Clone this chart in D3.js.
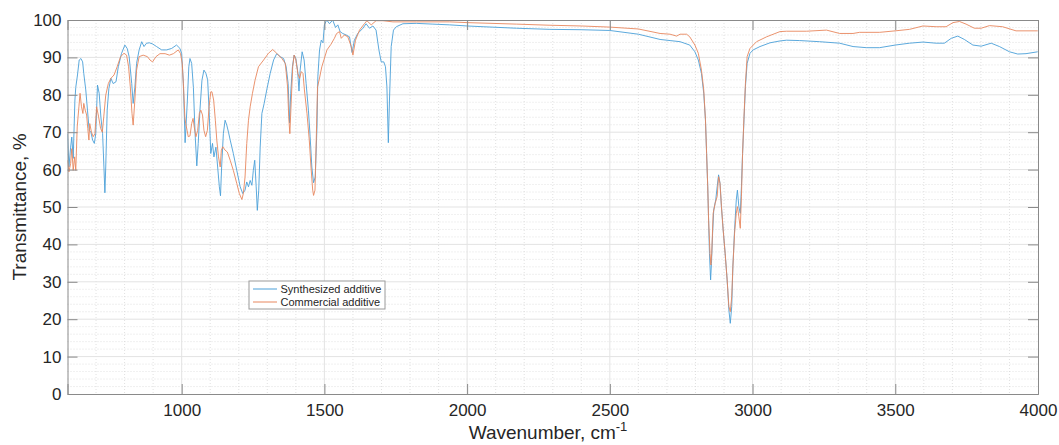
<!DOCTYPE html>
<html>
<head>
<meta charset="utf-8">
<script src="https://cdn.jsdelivr.net/npm/d3@7/dist/d3.min.js"></script>
<style>
  html, body { margin: 0; padding: 0; background: #fff; }
  svg { display: block; font-family: "Liberation Sans", Arial, Helvetica, sans-serif; }
</style>
</head>
<body>
<svg id="chart" width="1059" height="445"></svg>
<script>
// ---- Data ----
const seriesNames = ["Synthesized additive", "Commercial additive"];
const seriesColors = ["#4a9fd8", "#e8875e"];

const synthWavenumber = [600,605,611,615,620,626,629,635,641,647,653,657,664,670,676,682,688,694,699,705,711,717,723,729,731,734,739,745,752,760,770,778,789,801,809,816,825,830,836,842,851,860,868,877,887,898,912,930,947,965,982,994,1000,1006,1012,1015,1020,1025,1029,1035,1041,1047,1053,1058,1064,1071,1078,1085,1091,1096,1102,1108,1113,1120,1126,1132,1136,1140,1146,1152,1158,1164,1170,1181,1193,1205,1214,1222,1228,1234,1240,1246,1251,1256,1261,1265,1270,1275,1281,1289,1298,1310,1322,1333,1345,1357,1366,1373,1378,1382,1388,1394,1400,1406,1411,1415,1422,1429,1436,1444,1450,1456,1462,1468,1474,1477,1483,1489,1495,1500,1508,1518,1529,1539,1547,1555,1564,1576,1588,1597,1605,1617,1635,1646,1658,1670,1681,1691,1699,1708,1714,1719,1724,1728,1734,1742,1752,1775,1822,1880,1939,2000,2056,2173,2290,2400,2500,2600,2676,2711,2746,2780,2798,2810,2821,2829,2835,2839,2843,2846,2849,2853,2856,2860,2864,2871,2876,2881,2886,2891,2897,2904,2911,2917,2922,2927,2931,2937,2943,2947,2952,2957,2961,2965,2970,2975,2981,2991,3002,3026,3061,3096,3119,3165,3235,3305,3352,3399,3445,3500,3550,3597,3643,3672,3696,3719,3742,3772,3801,3836,3865,3900,3929,3958,3999];
const synthTransmittance = [69.6,60.7,66,68.7,63,78.6,82,85.3,89.3,89.7,88.8,85.7,81.3,75.9,70.5,70,67.9,67,69.6,82.6,80.4,74,69.6,58,53.8,60.7,75.9,81.7,84.4,83,83.5,87.5,91,93.3,92.4,90.2,83,77.7,82,88.4,92,94.2,92.9,93.8,93.9,93.6,92.9,92,92,92.4,93.3,92.4,91,83,67.2,71.4,78.6,87.5,89.7,88.4,82,69.6,61,67,75.9,83.9,86.6,85.7,84,75.9,64.3,67,63.4,66,60.7,55.4,53,60.7,69.6,73.2,71.9,70,67.9,64.3,59.8,55.4,53.6,54.5,56.7,55.4,57.1,55.8,59.8,62.5,55.4,49.1,54.5,66,75,77.7,81.3,85.7,89.3,91,90.2,89.7,87.5,83,72.5,80.4,87.5,90.6,89.7,86.6,81,86.6,91.5,89.3,83,75.9,68.8,60.7,56.5,58,71.4,84.8,92,94.6,93.9,98.7,100,99,100,98,98.7,96.9,96.4,96,95.5,91.3,94.6,96.4,97.8,99,97.8,98.4,97.3,92,88.8,88.8,87.5,82.1,67.2,78.6,92.9,97.3,98.2,99,99.1,98.9,98.7,98.4,98.2,97.8,97.5,97.4,97.2,96.2,94.8,94.5,94.2,93.3,91.5,89.3,85.7,80.4,73.3,64.3,55.4,46.5,37.6,30.5,34.9,43,49.2,51.9,55.4,58.6,56.3,50.1,43.9,37.6,30.5,22.5,18.9,23.4,34,43.9,51.9,54.5,50.1,48.3,55.4,64.3,73.3,82.2,88.4,91.1,92,92.9,93.9,94.4,94.6,94.5,94.2,93.8,92.9,92.6,92.6,93.3,93.8,94.1,93.8,93.8,95.1,95.7,94.8,93.3,93,93.8,92.9,91.5,90.9,91,91.5];

const commWavenumber = [600,605,611,615,620,625,629,634,640,644,649,654,657,662,667,671,675,678,684,690,696,702,709,716,722,727,734,743,752,763,774,786,798,807,814,820,826,830,836,842,851,865,880,889,898,910,924,942,957,971,988,996,1002,1007,1011,1014,1019,1023,1029,1035,1040,1044,1050,1056,1062,1067,1073,1078,1084,1090,1096,1102,1106,1112,1118,1123,1129,1135,1139,1144,1152,1160,1170,1181,1193,1202,1211,1216,1222,1228,1234,1240,1248,1257,1269,1287,1304,1319,1333,1351,1363,1371,1375,1379,1384,1389,1394,1400,1407,1413,1419,1425,1430,1439,1447,1453,1459,1462,1467,1472,1476,1483,1491,1499,1509,1523,1535,1543,1553,1559,1570,1582,1594,1600,1609,1623,1641,1649,1664,1681,1705,1740,1822,1939,2000,2173,2290,2400,2500,2600,2676,2711,2734,2746,2769,2780,2798,2810,2821,2829,2835,2839,2843,2846,2851,2854,2857,2862,2869,2876,2881,2886,2891,2897,2904,2911,2917,2922,2927,2931,2937,2943,2947,2952,2957,2961,2965,2970,2975,2981,2991,3014,3049,3096,3119,3189,3259,3305,3352,3375,3445,3500,3550,3597,3643,3678,3702,3725,3748,3777,3801,3830,3876,3923,3999];
const commTransmittance = [62.5,59.4,61.6,65.6,59.8,63.4,59.8,71.4,76.8,80.4,76.8,75,77.7,75.9,74.6,71,67.9,72.3,70,68.8,69.6,76.8,74.1,71,70,74.1,79.9,83,84.4,85.3,87.5,90.2,91.1,90.6,87.5,82.1,75,71.9,78.6,86.6,90.2,90.6,90.2,89.3,88.8,90.2,91,91,90.6,91,92,91,88.4,81.3,74.1,72.3,70.5,68.8,69,72.3,73.7,71.4,68.8,70.5,75,75.9,74.6,70.5,68.8,70.5,76.8,80.8,80.8,78.6,73.2,67.9,63.4,60.7,65.2,66.1,65.2,64.7,62.5,59.8,56.3,53.6,52,53.6,58,67,73.2,76.8,80.4,83.9,87.5,89.3,91.1,92.1,91.1,89.7,88.4,82.1,74.1,69.6,78.6,87.5,90.6,89.3,85.7,84.4,86.2,85.7,81.3,75,67.9,60.7,54.5,53.1,54.5,69.6,82.1,84.5,87.5,89.5,92,93.5,95.1,96.4,96.9,95.1,96,95.5,92.9,90.6,94.6,97.3,99.1,99.8,98.7,99.8,99.8,99.5,99.5,99.5,99.3,98.9,98.6,98.4,98.1,97.6,96.4,96.2,95.7,96.2,96.2,95.5,93.3,91.1,86.6,81.3,73.3,64.3,55.4,46.5,37.6,34.5,37.6,48.3,51,52.8,58.1,56.3,50.1,43.9,37.6,30.5,23.4,22,26,34,43,48.3,50.1,47.4,44.3,52.8,64.3,74.2,83,90.2,92.4,94.2,95.5,96.9,97,97,97.3,96.4,96.4,96.7,96.7,97.1,97.5,98.4,98.2,98.2,99.3,99.6,98.9,97.8,97.8,98.5,98.2,97.1,97.1];

const xTickValues = [1000, 1500, 2000, 2500, 3000, 3500, 4000];
const yTickValues = [0, 10, 20, 30, 40, 50, 60, 70, 80, 90, 100];
const xLabel = "Wavenumber, cm";
const xLabelSup = "-1";
const yLabel = "Transmittance, %";

// ---- Layout ----
const svg = d3.select("#chart");
const L = 67.5, R = 1038, T = 20, B = 394;
const x = d3.scaleLinear().domain([600, 4000]).range([L, R]);
const y = d3.scaleLinear().domain([0, 100]).range([B, T]);

const axisColor = "#8a8a8a";
const textColor = "#262626";

// minor grid
const g = svg.append("g");
g.selectAll("line.mx").data(d3.range(700, 4000, 100).filter(v => v % 500 !== 0))
  .join("line").attr("x1", d => x(d)).attr("x2", d => x(d)).attr("y1", T).attr("y2", B)
  .attr("stroke", "#d4d4d4").attr("stroke-width", 0.7).attr("stroke-dasharray", "1,2");
g.selectAll("line.my").data(d3.range(2, 100, 2).filter(v => v % 10 !== 0))
  .join("line").attr("x1", L).attr("x2", R).attr("y1", d => y(d)).attr("y2", d => y(d))
  .attr("stroke", "#d4d4d4").attr("stroke-width", 0.7).attr("stroke-dasharray", "1,2");
// major grid
g.append("g").selectAll("line").data(xTickValues.filter(v => v < 4000))
  .join("line").attr("x1", d => x(d)).attr("x2", d => x(d)).attr("y1", T).attr("y2", B)
  .attr("stroke", "#e3e3e3").attr("stroke-width", 1);
g.append("g").selectAll("line").data(yTickValues.filter(v => v > 0 && v < 100))
  .join("line").attr("x1", L).attr("x2", R).attr("y1", d => y(d)).attr("y2", d => y(d))
  .attr("stroke", "#e3e3e3").attr("stroke-width", 1);

// lines
const line = d3.line().x(d => x(d[0])).y(d => y(d[1]));
const synth = synthWavenumber.map((w, i) => [w, synthTransmittance[i]]);
const comm = commWavenumber.map((w, i) => [w, commTransmittance[i]]);
svg.append("clipPath").attr("id", "clip").append("rect")
  .attr("x", L).attr("y", T).attr("width", R - L).attr("height", B - T);
const lg = svg.append("g").attr("clip-path", "url(#clip)");
lg.append("path").datum(synth).attr("d", line).attr("fill", "none")
  .attr("stroke", seriesColors[0]).attr("stroke-width", 0.9).attr("stroke-linejoin", "round");
lg.append("path").datum(comm).attr("d", line).attr("fill", "none")
  .attr("stroke", seriesColors[1]).attr("stroke-width", 0.9).attr("stroke-linejoin", "round");

// axes
const tl = 10;
const xAxisB = d3.axisBottom(x).tickValues(xTickValues).tickSize(-tl).tickPadding(10).tickFormat(d3.format("d"));
const xAxisT = d3.axisTop(x).tickValues(xTickValues).tickSize(-tl).tickFormat("");
const yAxisL = d3.axisLeft(y).tickValues(yTickValues).tickSize(-tl).tickPadding(6).tickFormat(d3.format("d"));
const yAxisR = d3.axisRight(y).tickValues(yTickValues).tickSize(-tl).tickFormat("");

function style(sel) {
  sel.select(".domain").attr("stroke", axisColor);
  sel.selectAll(".tick line").attr("stroke", axisColor);
  sel.selectAll("text").attr("fill", textColor).attr("font-size", 17)
    .attr("font-family", "'Liberation Sans', Arial, sans-serif");
}
svg.append("g").attr("transform", `translate(0,${B})`).call(xAxisB).call(style);
svg.append("g").attr("transform", `translate(0,${T})`).call(xAxisT).call(style);
svg.append("g").attr("transform", `translate(${L},0)`).call(yAxisL).call(style);
svg.append("g").attr("transform", `translate(${R},0)`).call(yAxisR).call(style);

// axis labels
const xl = svg.append("text").attr("x", 548).attr("y", 439).attr("text-anchor", "middle")
  .attr("font-size", 19).attr("fill", textColor);
xl.append("tspan").text(xLabel);
xl.append("tspan").attr("dy", -8).attr("font-size", 13).text(xLabelSup);

svg.append("text").attr("transform", `translate(26,${(T + B) / 2}) rotate(-90)`)
  .attr("text-anchor", "middle").attr("font-size", 19).attr("fill", textColor).text(yLabel);

// legend
const lgd = svg.append("g").attr("transform", "translate(249,281)");
lgd.append("rect").attr("x", 0).attr("y", 0).attr("width", 136).attr("height", 28)
  .attr("fill", "#fff").attr("stroke", "#9a9a9a").attr("stroke-width", 1);
seriesNames.forEach((name, i) => {
  const yy = 8 + i * 13;
  lgd.append("line").attr("x1", 4).attr("x2", 28).attr("y1", yy).attr("y2", yy)
    .attr("stroke", seriesColors[i]).attr("stroke-width", 1);
  lgd.append("text").attr("x", 31.5).attr("y", yy + 4).attr("font-size", 11)
    .attr("fill", textColor).text(name);
});
</script>
</body>
</html>
